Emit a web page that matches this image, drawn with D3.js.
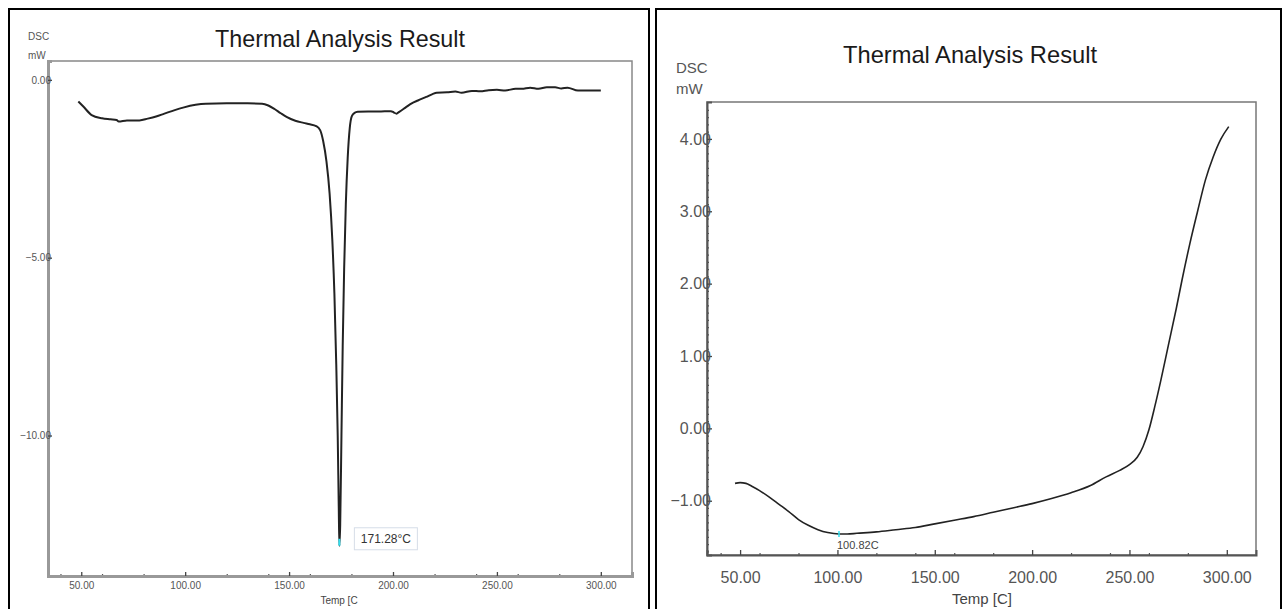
<!DOCTYPE html>
<html><head><meta charset="utf-8">
<script src="https://cdn.jsdelivr.net/npm/d3@7"></script>
<style>body{margin:0;background:#fff;}svg{display:block;}</style>
</head><body>
<svg id="c" width="1288" height="609"></svg>
<script>
// ---------- data ----------
const chartTitle = "Thermal Analysis Result";
const yAxisName = ["DSC", "mW"];
const leftXAxisName = "Temp [C";
const rightXAxisName = "Temp [C]";

const xMajorTicks = [50, 100, 150, 200, 250, 300];
const xMinorTicks = [40, 60, 80, 120, 140, 160, 180, 220, 240, 260, 280];

const leftYTicks = [0, -5, -10];
const leftYMinorTicks = [-1, -2, -3, -4, -6, -7, -8, -9, -11, -12, -13];
const rightYTicks = [4, 3, 2, 1, 0, -1];

// left: DSC curve with sharp melting endotherm
const leftTemp = [48.6, 51, 55, 60, 64, 67, 68, 72, 78, 82, 86, 90, 95, 99, 105, 110, 120, 130, 137, 140, 143, 146, 149, 153, 157, 160, 163, 165, 166.4,
  168, 169.5, 170.8, 171.8, 172.7, 173.4, 173.9, 174.2, 174.6, 175.2, 175.8, 176.5, 177.3, 178.2, 179.2, 180.2, 181.5,
  183, 188, 193, 199, 200.5, 201.7, 203, 206, 209, 212, 216, 219, 221, 226, 230, 233, 238, 242, 246, 250, 254, 259, 262, 266, 270, 274, 278, 281, 284, 289, 294, 300];
const leftDSC = [-0.61, -0.75, -0.99, -1.08, -1.11, -1.13, -1.17, -1.14, -1.14, -1.09, -1.03, -0.95, -0.85, -0.78, -0.70, -0.67, -0.66, -0.66, -0.67, -0.72, -0.82, -0.94, -1.05, -1.15, -1.21, -1.25, -1.30, -1.42, -1.72,
  -2.3, -3.2, -4.5, -6.0, -8.0, -10.0, -12.0, -13.1, -12.5, -10.0, -7.5, -5.3, -3.5, -2.2, -1.35, -1.02, -0.93,
  -0.90, -0.89, -0.89, -0.88, -0.92, -0.95, -0.90, -0.78, -0.66, -0.58, -0.48, -0.40, -0.36, -0.35, -0.33, -0.36, -0.31, -0.32, -0.29, -0.28, -0.30, -0.25, -0.25, -0.22, -0.25, -0.21, -0.21, -0.24, -0.22, -0.30, -0.30, -0.30];
const leftPeak = {temp: 174.2, dsc: -13.1, label: "171.28\u00B0C"};

// right: DSC curve
const rightTemp = [47.4, 50, 53, 56, 60, 65, 70, 75, 80, 85, 90, 95, 100.8, 105, 110, 120, 130, 140, 150, 160, 170, 180, 190, 200, 210, 220, 230, 238, 245, 250, 254, 257, 260, 263, 266, 270, 274, 277, 281, 285, 289, 293, 297, 301];
const rightDSC = [-0.76, -0.75, -0.76, -0.80, -0.86, -0.95, -1.05, -1.15, -1.26, -1.34, -1.40, -1.44, -1.46, -1.46, -1.45, -1.43, -1.40, -1.37, -1.32, -1.27, -1.22, -1.16, -1.10, -1.04, -0.97, -0.89, -0.79, -0.67, -0.58, -0.50, -0.40, -0.25, -0.02, 0.30, 0.65, 1.15, 1.65, 2.05, 2.55, 3.00, 3.43, 3.75, 4.00, 4.17];
const rightMin = {temp: 100.8, dsc: -1.46, label: "100.82C"};

// ---------- layout ----------
const svg = d3.select("#c");
const fmt = d3.format(".2f");
const FONT = "Liberation Sans, Arial, sans-serif";

// outer cell borders
svg.append("rect").attr("x", 9).attr("y", 9).attr("width", 640).attr("height", 640)
  .attr("fill", "none").attr("stroke", "#000").attr("stroke-width", 2);
svg.append("rect").attr("x", 656).attr("y", 9).attr("width", 625).attr("height", 640)
  .attr("fill", "none").attr("stroke", "#000").attr("stroke-width", 2);

function panel(cfg) {
  const x = d3.scaleLinear().domain(cfg.xDomain).range([cfg.left, cfg.right]);
  const y = d3.scaleLinear().domain(cfg.yDomain).range([cfg.bottom, cfg.top]);
  const g = svg.append("g");

  g.append("text").attr("x", cfg.titleX).attr("y", cfg.titleY)
    .attr("text-anchor", "middle").attr("font-family", FONT)
    .attr("font-size", cfg.titleSize).attr("fill", "#1a1a1a")
    .attr("textLength", cfg.titleLen).attr("lengthAdjust", "spacingAndGlyphs")
    .text(chartTitle);

  g.append("rect").attr("x", cfg.left).attr("y", cfg.top)
    .attr("width", cfg.right - cfg.left).attr("height", cfg.bottom - cfg.top)
    .attr("fill", "none").attr("stroke", cfg.frameColor).attr("stroke-width", cfg.frameWidth);

  yAxisName.forEach((t, i) => {
    g.append("text").attr("x", cfg.yNameX).attr("y", cfg.yNameY[i])
      .attr("font-family", FONT).attr("font-size", cfg.nameSize).attr("fill", "#555").text(t);
  });

  const yMinor = d3.axisLeft(y).tickValues(cfg.yMinor).tickSize(-cfg.minorLen).tickFormat("");
  g.append("g").attr("transform", `translate(${cfg.left},0)`).call(yMinor)
    .call(s => s.select(".domain").remove())
    .selectAll("line").attr("stroke", "#555").attr("stroke-width", 1.2);

  const yAxis = d3.axisLeft(y).tickValues(cfg.yTicks).tickSize(-cfg.majorLen).tickPadding(cfg.yPad).tickFormat(fmt);
  const ya = g.append("g").attr("transform", `translate(${cfg.left},0)`).call(yAxis);
  ya.select(".domain").attr("stroke", cfg.axisColor).attr("stroke-width", cfg.axisWidth);
  ya.selectAll("line").attr("stroke", "#444").attr("stroke-width", 1.3);
  ya.selectAll("text").attr("font-family", FONT).attr("font-size", cfg.tickSize).attr("fill", "#555");

  const xMinor = d3.axisBottom(x).tickValues(xMinorTicks).tickSize(-cfg.minorLen).tickFormat("");
  g.append("g").attr("transform", `translate(0,${cfg.bottom})`).call(xMinor)
    .call(s => s.select(".domain").remove())
    .selectAll("line").attr("stroke", "#555").attr("stroke-width", 1.2);

  const xAxis = d3.axisBottom(x).tickValues(xMajorTicks).tickSize(-cfg.majorLen).tickPadding(cfg.xPad).tickFormat(fmt);
  const xa = g.append("g").attr("transform", `translate(0,${cfg.bottom})`).call(xAxis);
  xa.select(".domain").attr("stroke", cfg.axisColor).attr("stroke-width", cfg.axisWidth);
  xa.selectAll("line").attr("stroke", "#444").attr("stroke-width", 1.3);
  xa.selectAll("text").attr("font-family", FONT).attr("font-size", cfg.tickSize).attr("fill", "#555");

  g.append("text").attr("x", cfg.xNameX).attr("y", cfg.xNameY).attr("text-anchor", "middle")
    .attr("font-family", FONT).attr("font-size", cfg.nameSize).attr("fill", "#444").text(cfg.xName);

  const line = d3.line().x((d, i) => x(cfg.temp[i])).y((d, i) => y(cfg.dsc[i])).curve(d3.curveMonotoneX);
  g.append("path").datum(cfg.temp).attr("d", line)
    .attr("fill", "none").attr("stroke", "#222").attr("stroke-width", cfg.lineWidth)
    .attr("stroke-linejoin", "round");

  return {x, y, g};
}

const L = panel({
  xDomain: [34, 315], yDomain: [-13.95, 0.53],
  left: 48, right: 632, top: 61, bottom: 576,
  titleX: 340, titleY: 47, titleSize: 24, titleLen: 250,
  frameColor: "#888", frameWidth: 1.5, axisColor: "#999", axisWidth: 3,
  yNameX: 28, yNameY: [40, 59], nameSize: 10,
  yTicks: leftYTicks, yMinor: leftYMinorTicks, minorLen: 2, majorLen: 4, yPad: -3, xPad: 6,
  tickSize: 10, xName: leftXAxisName, xNameX: 339, xNameY: 604,
  temp: leftTemp, dsc: leftDSC, lineWidth: 2
});

const R = panel({
  xDomain: [33, 315], yDomain: [-1.75, 4.51],
  left: 707, right: 1256, top: 102, bottom: 555,
  titleX: 970, titleY: 63, titleSize: 24, titleLen: 254,
  frameColor: "#777", frameWidth: 1.5, axisColor: "#555", axisWidth: 2,
  yNameX: 676, yNameY: [73, 94], nameSize: 15,
  yTicks: rightYTicks, yMinor: d3.range(-17, 45).map(v => v / 10).filter(v => Math.abs(v - Math.round(v)) > 1e-6),
  minorLen: 2, majorLen: 5, yPad: -4, xPad: 17,
  tickSize: 16, xName: rightXAxisName, xNameX: 982, xNameY: 604,
  temp: rightTemp, dsc: rightDSC, lineWidth: 1.6
});

// left peak annotation
L.g.append("line").attr("x1", L.x(leftPeak.temp)).attr("x2", L.x(leftPeak.temp))
  .attr("y1", L.y(leftPeak.dsc) - 7).attr("y2", L.y(leftPeak.dsc))
  .attr("stroke", "#33e0f0").attr("stroke-width", 2);
const lbx = L.x(leftPeak.temp) + 15, lby = L.y(leftPeak.dsc) - 18;
L.g.append("rect").attr("x", lbx).attr("y", lby).attr("width", 63).attr("height", 22)
  .attr("fill", "#fff").attr("stroke", "#d6dde8").attr("stroke-width", 1);
L.g.append("text").attr("x", lbx + 31.5).attr("y", lby + 15.5).attr("text-anchor", "middle")
  .attr("font-family", FONT).attr("font-size", 12).attr("fill", "#333")
  .text(leftPeak.label);

// right min annotation
R.g.append("line").attr("x1", R.x(rightMin.temp)).attr("x2", R.x(rightMin.temp))
  .attr("y1", R.y(rightMin.dsc) - 3).attr("y2", R.y(rightMin.dsc) + 3)
  .attr("stroke", "#33e0f0").attr("stroke-width", 1.5);
R.g.append("text").attr("x", R.x(rightMin.temp) - 2).attr("y", R.y(rightMin.dsc) + 15)
  .attr("font-family", FONT).attr("font-size", 11).attr("fill", "#444")
  .text(rightMin.label);
</script>
</body></html>
